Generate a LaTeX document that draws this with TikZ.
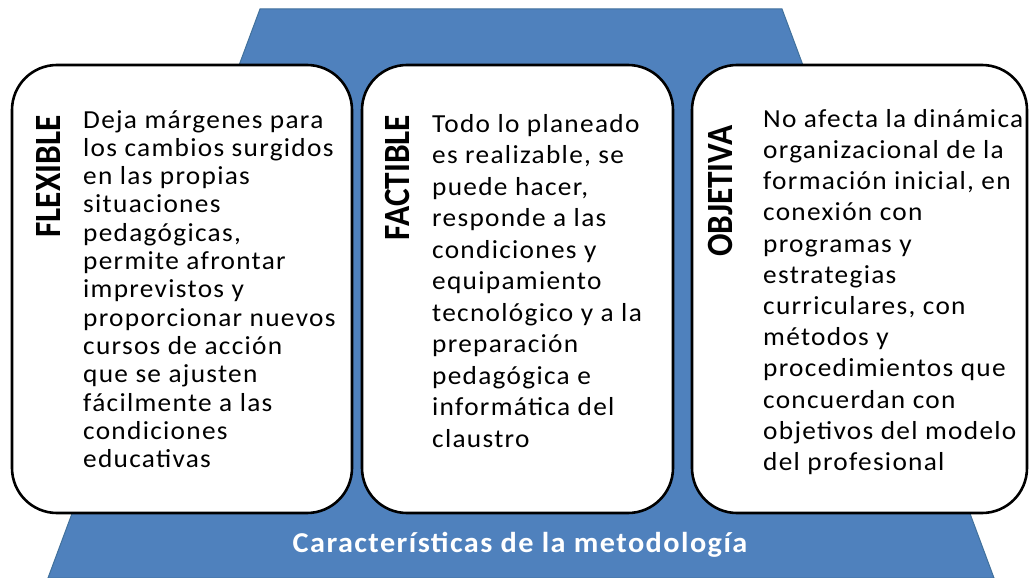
\documentclass[tikz,border=0pt]{standalone}
\usepackage{fontspec}
\setmainfont{Carlito}
\newfontfamily\wideface[LetterSpace=5,FakeStretch=1.05]{Carlito}
\newfontfamily\titleface[FakeStretch=0.9]{Carlito}
\usetikzlibrary{positioning}
\definecolor{MetBlue}{HTML}{4F81BD}
\definecolor{MetEdge}{HTML}{41719C}
\tikzset{
  card/.style={rectangle,rounded corners=45pt,draw=black,line width=2.6pt,fill=white,minimum height=448pt,inner sep=0pt},
  cardtitle/.style={rotate=90,font=\titleface\fontsize{37}{40}\selectfont\bfseries,inner sep=0pt},
  cardtext/.style={anchor=north west,align=left,inner sep=0pt,font=\wideface\fontsize{26}{#1}\selectfont},
  cardtext/.default=28.3,
  caption/.style={text=white,font=\wideface\fontsize{28.8}{30}\selectfont\bfseries},
}
\begin{document}
\begin{tikzpicture}[x=1pt,y=-1pt]
  \useasboundingbox (0,0) rectangle (1029,578);

  % Base
  \filldraw[fill=MetBlue,draw=MetEdge,line width=1pt] (260,9) -- (782,9) -- (994,578) -- (48,578) -- cycle;
  \node[caption] (base) at (520,545) {Características de la metodología};

  % Cards
  \node[card, minimum width=340pt] (flex) at (182,289) {};
  \node[card, minimum width=311pt] (fact) at (517.5,289) {};
  \node[card, minimum width=335pt] (obj) at (859.5,289) {};

  % Titles
  \node[cardtitle] (flexT) at (48.5,176.5) {FLEXIBLE};
  \node[cardtitle] (factT) at (397.5,177.5) {FACTIBLE};
  \node[cardtitle] (objT) at (720,191) {OBJETIVA};

  % Texts
  \node[cardtext] (flexX) at (83,110) {Deja márgenes para\\los cambios surgidos\\en las propias\\situaciones\\pedagógicas,\\permite afrontar\\imprevistos y\\proporcionar nuevos\\cursos de acción\\que se ajusten\\fácilmente a las\\condiciones\\educativas};
  \node[cardtext=31.5] (factX) at (432,114) {Todo lo planeado\\es realizable, se\\puede hacer,\\responde a las\\condiciones y\\equipamiento\\tecnológico y a la\\preparación\\pedagógica e\\informática del\\claustro};
  \node[cardtext=31.2] (objX) at (763,109) {No afecta la dinámica\\organizacional de la\\formación inicial, en\\conexión con\\programas y\\estrategias\\curriculares, con\\métodos y\\procedimientos que\\concuerdan con\\objetivos del modelo\\del profesional};
\end{tikzpicture}
\end{document}
